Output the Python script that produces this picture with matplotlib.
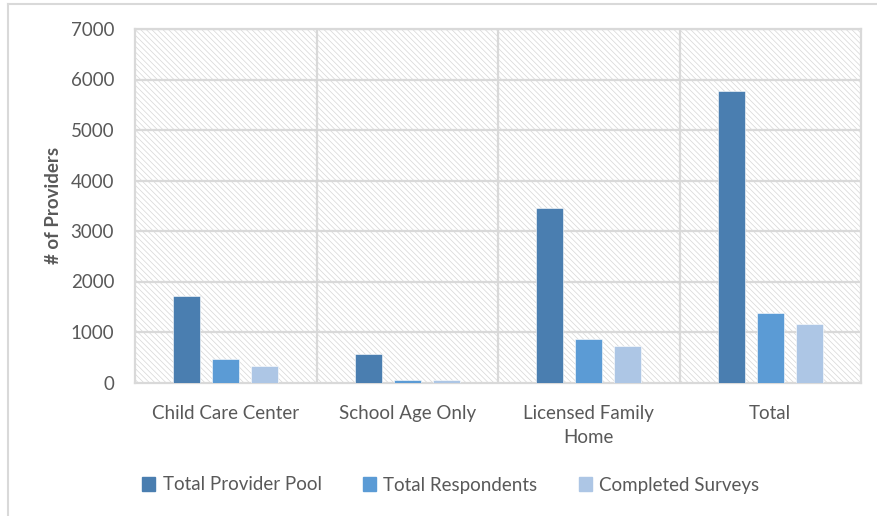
import numpy as np
import matplotlib.pyplot as plt
from matplotlib.patches import Rectangle
from matplotlib.lines import Line2D

categories = ['Child Care Center', 'School Age Only', 'Licensed Family\nHome', 'Total']
series_names = ['Total Provider Pool', 'Total Respondents', 'Completed Surveys']
provider_pool = [1710, 565, 3465, 5780]
respondents = [470, 48, 865, 1385]
completed = [332, 40, 728, 1150]
colors = ['#4A7EB0', '#5B9BD5', '#ADC6E5']
yticks = [0, 1000, 2000, 3000, 4000, 5000, 6000, 7000]

plt.rcParams['font.family'] = ['Lato', 'DejaVu Sans']
plt.rcParams['hatch.linewidth'] = 0.5
text_col = '#595959'
grid_col = '#D9D9D9'

fig = plt.figure(figsize=(8.77, 5.16), dpi=100)
ax = fig.add_axes([135 / 877, 1 - 382.5 / 516, 726 / 877, 353.5 / 516])

# hatched plot-area background
ax.add_patch(Rectangle((0, 0), 1, 1, transform=ax.transAxes, facecolor='white',
                       edgecolor='#D6D6D6', linewidth=0, hatch='\\\\\\\\\\\\', zorder=0))

x = np.arange(len(categories))
width = 0.15
step = 0.215
for i, (vals, name) in enumerate(zip([provider_pool, respondents, completed], series_names)):
    ax.bar(x + (i - 1) * step, vals, width, color=colors[i], label=name,
           edgecolor='white', linewidth=0.4, zorder=3)

ax.set_xlim(-0.5, len(categories) - 0.5)
ax.set_ylim(0, 7000)
ax.set_yticks(yticks)
ax.set_yticklabels([str(v) for v in yticks], fontsize=13.5, color=text_col)
ax.set_xticks(x)
ax.set_xticklabels(categories, fontsize=13.5, color=text_col, linespacing=1.5)
ax.tick_params(axis='y', length=0, pad=15)
ax.tick_params(axis='x', length=0, pad=16)

for v in yticks[1:]:
    ax.axhline(v, color=grid_col, lw=1.6, zorder=1)
for b in np.arange(0.5, len(categories) - 0.5):
    ax.axvline(b, color=grid_col, lw=1.6, zorder=1)
for s in ax.spines.values():
    s.set_color(grid_col)
    s.set_linewidth(1.6)

ax.set_ylabel('# of Providers', fontsize=13.5, fontweight='bold', color=text_col, labelpad=6)

handles = [Rectangle((0, 0), 1, 1, color=c) for c in colors]
fig.legend(handles, series_names, loc='center', bbox_to_anchor=(0.514, 1 - 485 / 516),
           ncol=3, frameon=False, fontsize=13.5, labelcolor=text_col,
           handlelength=0.7, handleheight=0.7, handletextpad=0.4, columnspacing=2.2)

# outer chart frame (left and top visible)
fig.add_artist(Line2D([7.5 / 877, 7.5 / 877], [0, 1 - 4 / 516], color=grid_col, lw=1.5))
fig.add_artist(Line2D([7.5 / 877, 1], [1 - 4 / 516, 1 - 4 / 516], color=grid_col, lw=1.5))

fig.savefig('out.png', dpi=100)
